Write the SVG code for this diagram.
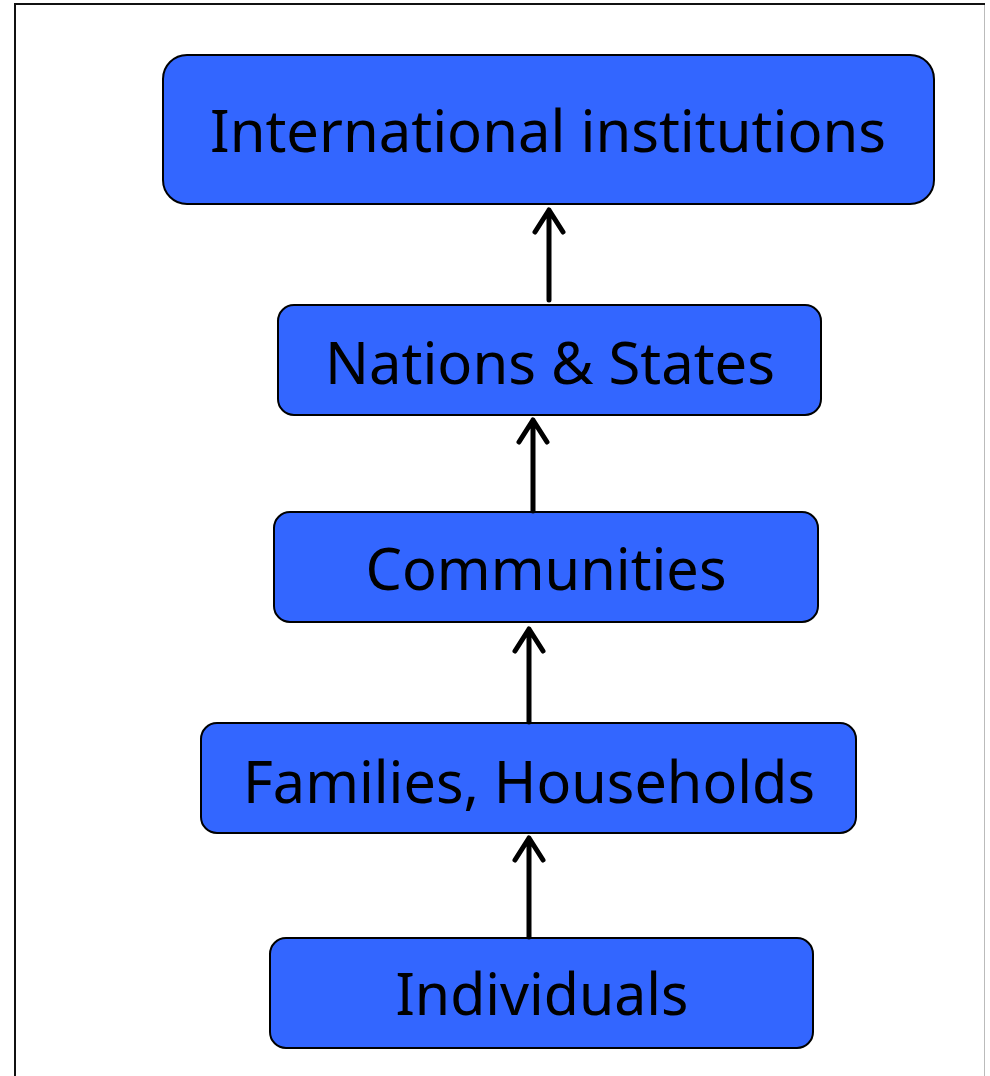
<svg xmlns="http://www.w3.org/2000/svg" width="990" height="1076" viewBox="0 0 990 1076">
<defs>
<style>
.box{fill:#3366FF;stroke:#000;stroke-width:2}
.lbl{font-family:"Noto Sans","Open Sans","Liberation Sans",sans-serif;font-size:58px;fill:#000;text-anchor:middle}
.conn{stroke:#000;stroke-width:5;fill:none}
</style>
</defs>
<rect x="0" y="0" width="990" height="1076" fill="#fff"/>
<line x1="15" y1="4" x2="15" y2="1076" stroke="#111" stroke-width="2"/>
<line x1="14" y1="4" x2="985" y2="4" stroke="#111" stroke-width="2"/>
<line x1="984.5" y1="5" x2="984.5" y2="1076" stroke="#bbb" stroke-width="1"/>
<g id="n1"><rect class="box" x="163" y="55" width="771" height="149" rx="24"/><text class="lbl" x="548" y="152" textLength="676" lengthAdjust="spacingAndGlyphs">International institutions</text></g>
<g id="n2"><rect class="box" x="278" y="305" width="543" height="110" rx="16"/><text class="lbl" x="550" y="384" textLength="450" lengthAdjust="spacingAndGlyphs">Nations &amp; States</text></g>
<g id="n3"><rect class="box" x="274" y="512" width="544" height="110" rx="16"/><text class="lbl" x="546" y="590" textLength="361" lengthAdjust="spacingAndGlyphs">Communities</text></g>
<g id="n4"><rect class="box" x="201" y="723" width="655" height="110" rx="16"/><text class="lbl" x="529" y="803" textLength="572" lengthAdjust="spacingAndGlyphs">Families, Households</text></g>
<g id="n5"><rect class="box" x="270" y="938" width="543" height="110" rx="16"/><text class="lbl" x="542" y="1015" textLength="293" lengthAdjust="spacingAndGlyphs">Individuals</text></g>
<g id="connectors" class="conn" stroke-linecap="round" stroke-linejoin="round">
<path d="M549 300 V210 M535 232 L549 210 L563 232"/>
<path d="M533 511 V420 M519 442 L533 420 L547 442"/>
<path d="M529 722 V629 M515 651 L529 629 L543 651"/>
<path d="M529 937 V838 M515 860 L529 838 L543 860"/>
</g>
</svg>
